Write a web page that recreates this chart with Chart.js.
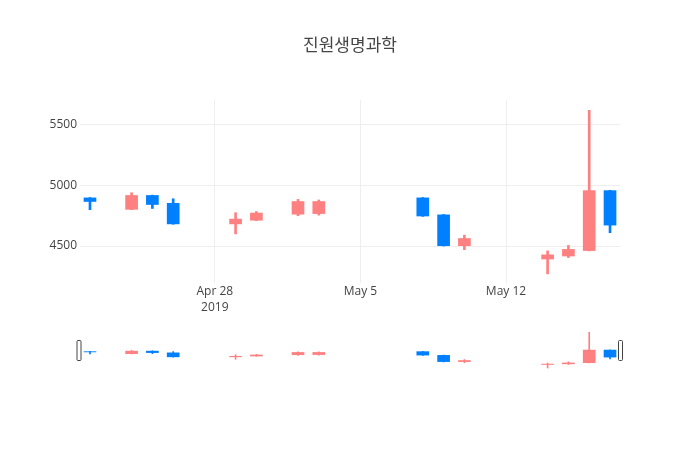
<!DOCTYPE html>
<html>
<head>
<meta charset="utf-8">
<script src="https://cdn.jsdelivr.net/npm/chart.js@4.4.1/dist/chart.umd.min.js"></script>
<style>
    html, body { margin: 0; padding: 0; background: #fff; }
    #wrap { position: relative; width: 700px; height: 450px; }
    #mainBox { position: absolute; left: 0; top: 0; width: 700px; height: 450px; }
    #sliderBox { position: absolute; left: 70px; top: 330px; width: 560px; height: 40px; }
</style>
</head>
<body>
<div id="wrap">
    <div id="mainBox"><canvas id="mainChart"></canvas></div>
    <div id="sliderBox"><canvas id="sliderChart"></canvas></div>
</div>
<script>
const tradeDates = ['2019-04-22', '2019-04-24', '2019-04-25', '2019-04-26', '2019-04-29', '2019-04-30',
    '2019-05-02', '2019-05-03', '2019-05-08', '2019-05-09', '2019-05-10', '2019-05-14',
    '2019-05-15', '2019-05-16', '2019-05-17'];
const openPrices  = [4900, 4800, 4920, 4855, 4680, 4710, 4760, 4765, 4900, 4760, 4500, 4390, 4415, 4460, 4960];
const highPrices  = [4900, 4940, 4920, 4890, 4775, 4785, 4885, 4880, 4900, 4760, 4590, 4460, 4505, 5620, 4960];
const lowPrices   = [4800, 4800, 4810, 4680, 4600, 4710, 4750, 4755, 4745, 4500, 4470, 4270, 4405, 4460, 4610];
const closePrices = [4865, 4920, 4840, 4680, 4725, 4775, 4870, 4870, 4745, 4500, 4565, 4430, 4475, 4960, 4670];

const yTickValues = [4500, 5000, 5500];
const xTickDates = ['2019-04-28', '2019-05-05', '2019-05-12'];
const xTickLabels = [['Apr 28', '2019'], ['May 5'], ['May 12']];

const upColor = 'rgb(255,128,128)';
const downColor = 'rgb(0,128,255)';

function dayNum(s) {
    return Date.parse(s) / 86400000;
}

const xs = tradeDates.map(dayNum);
const xMin = xs[0] - 0.48;
const xMax = xs[xs.length - 1] + 0.48;
const yMin = 4195;
const yMax = 5705;

const candleColors = openPrices.map((o, i) => closePrices[i] >= o ? upColor : downColor);

function candleDatasets(wickWidth) {
    return [{
        label: 'wick',
        data: xs.map((x, i) => ({ x: x, y: [lowPrices[i], highPrices[i]] })),
        backgroundColor: candleColors,
        barThickness: wickWidth,
        grouped: false
    }, {
        label: 'body',
        data: xs.map((x, i) => ({ x: x, y: [openPrices[i], closePrices[i]] })),
        backgroundColor: candleColors,
        barPercentage: 0.61,
        categoryPercentage: 1,
        grouped: false
    }];
}

const tickFont = { family: "'Open Sans', sans-serif", size: 12, lineHeight: 1.3 };

new Chart(document.getElementById('mainChart').getContext('2d'), {
    type: 'bar',
    data: { datasets: candleDatasets(2) },
    options: {
        animation: false,
        responsive: true,
        maintainAspectRatio: false,
        layout: { padding: { left: 0, right: 0, top: 0, bottom: 127 } },
        plugins: {
            legend: { display: false },
            tooltip: { enabled: false },
            title: {
                display: true,
                text: '진원생명과학',
                color: '#444',
                font: { family: "'Noto Sans CJK KR', sans-serif", size: 17, weight: 'normal', lineHeight: 1.2 },
                padding: { top: 34, bottom: 45.6 }
            }
        },
        scales: {
            x: {
                type: 'linear',
                min: xMin,
                max: xMax,
                offset: false,
                grid: { color: '#eee', offset: false, drawTicks: false },
                border: { display: false },
                afterBuildTicks: function (scale) {
                    scale.ticks = xTickDates.map(d => ({ value: dayNum(d) }));
                },
                ticks: {
                    autoSkip: false,
                    maxRotation: 0,
                    padding: 1,
                    color: '#444',
                    font: tickFont,
                    callback: function (value, index) {
                        return xTickLabels[index];
                    }
                },
                afterFit: function (scale) {
                    scale.height = 40;
                    scale.paddingLeft = 0;
                    scale.paddingRight = 0;
                }
            },
            y: {
                min: yMin,
                max: yMax,
                grid: { color: '#eee', drawTicks: false },
                border: { display: false },
                afterBuildTicks: function (scale) {
                    scale.ticks = yTickValues.map(v => ({ value: v }));
                },
                ticks: {
                    padding: 3,
                    color: '#444',
                    font: tickFont,
                    callback: function (value) {
                        return String(value);
                    }
                },
                afterFit: function (scale) {
                    scale.width = 80;
                    scale.paddingTop = 0;
                    scale.paddingBottom = 0;
                }
            },
            yRight: {
                position: 'right',
                display: true,
                grid: { display: false },
                border: { display: false },
                ticks: { display: false },
                afterFit: function (scale) {
                    scale.width = 80;
                }
            }
        }
    }
});

const sliderHandles = {
    id: 'sliderHandles',
    afterDraw: function (chart) {
        const ctx = chart.ctx;
        const area = chart.chartArea;
        const h = 20;
        const top = area.top + (area.height - h) / 2 + 0.5;
        ctx.save();
        ctx.fillStyle = '#fff';
        ctx.strokeStyle = '#444';
        ctx.lineWidth = 1;
        [area.left - 3, area.right - 1.5].forEach(function (x) {
            ctx.beginPath();
            ctx.roundRect(x, top, 4, h, 1);
            ctx.fill();
            ctx.stroke();
        });
        ctx.restore();
    }
};

new Chart(document.getElementById('sliderChart').getContext('2d'), {
    type: 'bar',
    data: { datasets: candleDatasets(1) },
    options: {
        animation: false,
        responsive: true,
        maintainAspectRatio: false,
        layout: { padding: { left: 10, right: 10, top: 0, bottom: 0 } },
        plugins: {
            legend: { display: false },
            tooltip: { enabled: false },
            title: { display: false }
        },
        scales: {
            x: { type: 'linear', display: false, min: xMin, max: xMax, offset: false },
            y: { display: false, min: yMin, max: yMax }
        }
    },
    plugins: [sliderHandles]
});
</script>
</body>
</html>
